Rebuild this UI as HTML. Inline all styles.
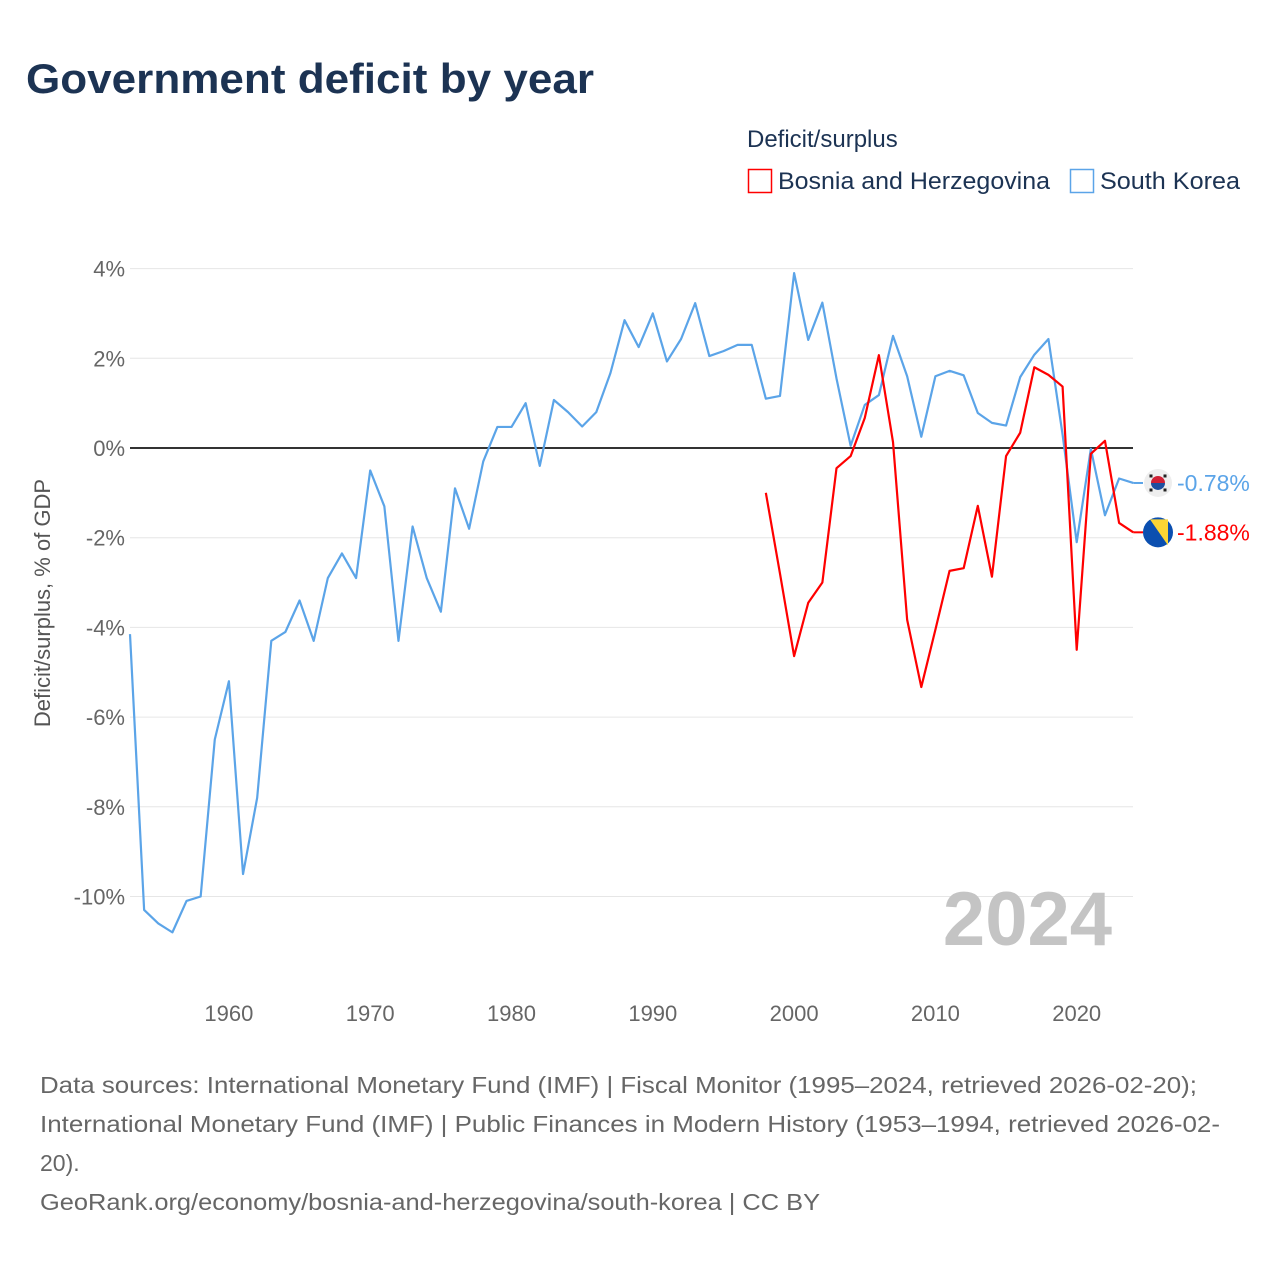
<!DOCTYPE html>
<html><head><meta charset="utf-8"><style>
body{margin:0;background:#fff;font-family:"Liberation Sans",sans-serif;}
#wrap{position:relative;width:1280px;height:1280px;overflow:hidden}
</style></head><body>
<div id="wrap">
<svg id="chart" width="1280" height="1280">
<text x="26" y="93" font-size="42" font-weight="bold" fill="#1c3353" textLength="568" lengthAdjust="spacingAndGlyphs">Government deficit by year</text>
<text x="747" y="147" font-size="24" fill="#1c3353">Deficit/surplus</text>
<g><rect x="748.5" y="169.5" width="23" height="23" fill="none" stroke="#ff0000" stroke-width="1.5"/><text x="778" y="189" font-size="24" fill="#1c3353" textLength="272" lengthAdjust="spacingAndGlyphs">Bosnia and Herzegovina</text></g>
<g><rect x="1070.5" y="169.5" width="23" height="23" fill="none" stroke="#5ba4e8" stroke-width="1.5"/><text x="1100" y="189" font-size="24" fill="#1c3353" textLength="140" lengthAdjust="spacingAndGlyphs">South Korea</text></g>
<text transform="translate(50,603) rotate(-90)" text-anchor="middle" font-size="22" fill="#555">Deficit/surplus, % of GDP</text>
<g id="grid"></g><g id="xt"></g><g id="series"></g>
<text x="1112" y="945" text-anchor="end" font-size="76" font-weight="bold" fill="#c4c4c4">2024</text>
<g font-size="23" fill="#666">
<text x="40" y="1093" textLength="1157" lengthAdjust="spacingAndGlyphs">Data sources: International Monetary Fund (IMF) | Fiscal Monitor (1995–2024, retrieved 2026-02-20);</text>
<text x="40" y="1132" textLength="1180" lengthAdjust="spacingAndGlyphs">International Monetary Fund (IMF) | Public Finances in Modern History (1953–1994, retrieved 2026-02-</text>
<text x="40" y="1171">20).</text>
<text x="40" y="1210" textLength="780" lengthAdjust="spacingAndGlyphs">GeoRank.org/economy/bosnia-and-herzegovina/south-korea | CC BY</text>
</g>
</svg>
</div>
<script>
const yTicks=[4,2,0,-2,-4,-6,-8,-10];
const xTicks=[1960,1970,1980,1990,2000,2010,2020];
const krYears=[];for(let y=1953;y<=2024;y++)krYears.push(y);
const krValues=[-4.15,-10.3,-10.6,-10.8,-10.1,-10.0,-6.5,-5.2,-9.5,-7.8,-4.3,-4.1,-3.4,-4.3,-2.9,-2.35,-2.9,-0.5,-1.3,-4.3,-1.75,-2.9,-3.65,-0.9,-1.8,-0.3,0.47,0.47,1.0,-0.4,1.07,0.8,0.48,0.8,1.67,2.85,2.25,3.0,1.93,2.43,3.23,2.05,2.16,2.3,2.3,1.1,1.16,3.9,2.41,3.24,1.55,0.05,0.96,1.18,2.5,1.6,0.25,1.6,1.72,1.62,0.78,0.56,0.5,1.58,2.08,2.43,0.3,-2.1,-0.02,-1.5,-0.68,-0.78];
const baYears=[];for(let y=1998;y<=2024;y++)baYears.push(y);
const baValues=[-1.0,-2.8,-4.64,-3.45,-3.0,-0.45,-0.18,0.67,2.07,0.13,-3.83,-5.33,-4.05,-2.74,-2.68,-1.29,-2.87,-0.18,0.34,1.8,1.63,1.37,-4.5,-0.13,0.16,-1.67,-1.88];
const NS='http://www.w3.org/2000/svg';
const X=yr=>130+(yr-1953)*14.13;
const Y=v=>448-v*44.85;
function mk(tag,attrs,parent){const e=document.createElementNS(NS,tag);for(const k in attrs)e.setAttribute(k,attrs[k]);parent.appendChild(e);return e;}
const grid=document.getElementById('grid'),xt=document.getElementById('xt'),ser=document.getElementById('series');
yTicks.forEach(v=>{
 const l=mk('line',{x1:130,x2:1133,y1:Y(v),y2:Y(v),stroke:v===0?'#333':'#e6e6e6','stroke-width':v===0?2:1},grid);
 
 
 const t=mk('text',{x:125,y:Y(v)+8,'text-anchor':'end','font-size':22,fill:'#666'},grid);
 t.textContent=v+'%';
 
 
});
xTicks.forEach(yr=>{
 const t=mk('text',{x:X(yr),y:1021,'text-anchor':'middle','font-size':22,fill:'#666'},xt);
 t.textContent=yr;
 
 
});
function line(years,vals,color,name){
 const p=mk('polyline',{points:years.map((y,i)=>X(y)+','+Y(vals[i])).join(' '),fill:'none',stroke:color,'stroke-width':2.2,'stroke-linejoin':'round'},ser);
 
 
}
line(krYears,krValues,'#5ba4e8','south-korea-line');
line(baYears,baValues,'#ff0000','bosnia-line');
function endLabel(years,vals,color,name,flag){
 const v=vals[vals.length-1],y=Y(v),x0=X(years[years.length-1]);
 const c=mk('line',{x1:x0,x2:1143,y1:y,y2:y,stroke:color,'stroke-width':2},ser);
 
 
 const g=mk('g',{},ser);
 
 
 if(flag==='kr'){
  mk('circle',{cx:1158,cy:y,r:14,fill:'#eee'},g);
  mk('path',{d:`M1151 ${y} a7 7 0 0 1 14 0 z`,fill:'#d02035'},g);
  mk('path',{d:`M1151 ${y} a7 7 0 0 0 14 0 z`,fill:'#1e4fa0'},g);
  [[-7,-7],[7,-7],[-7,7],[7,7]].forEach(d=>mk('rect',{x:1158+d[0]-1.5,y:y+d[1]-1.5,width:3,height:3,fill:'#222'},g));
 }else{
  mk('circle',{cx:1158,cy:y,r:15,fill:'#0b4fb0'},g);
  mk('path',{d:`M1150 ${y-13} L1168 ${y-13} L1168 ${y+13} Z`,fill:'#fcd535'},g);
 }
 const t=mk('text',{x:1177,y:y+8,'font-size':23,fill:color},ser);
 t.textContent=v.toFixed(2)+'%';
 
 
}
endLabel(krYears,krValues,'#5ba4e8','south-korea','kr');
endLabel(baYears,baValues,'#ff0000','bosnia','ba');
</script>
</body></html>
